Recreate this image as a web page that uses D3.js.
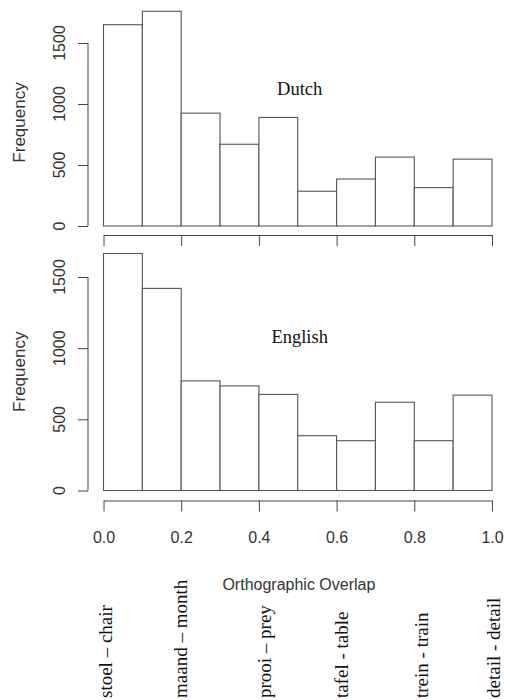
<!DOCTYPE html>
<html>
<head>
<meta charset="utf-8">
<script src="https://cdn.jsdelivr.net/npm/d3@7"></script>
<style>
  body { margin: 0; background: #fff; }
  svg { display: block; }
</style>
</head>
<body>
<svg class="chart"></svg>
<script>
// bin edges of orthographic overlap (0.1 wide)
var binStarts = [0.0, 0.1, 0.2, 0.3, 0.4, 0.5, 0.6, 0.7, 0.8, 0.9];
var dutchFreq = [1650, 1760, 925, 670, 890, 285, 385, 565, 315, 548];
var englishFreq = [1665, 1420, 770, 735, 675, 385, 350, 620, 350, 670];
var yTicks = [0, 500, 1000, 1500];
var xTicks = [0, 0.2, 0.4, 0.6, 0.8, 1.0];
var pairLabels = ["stoel \u2013 chair", "maand \u2013 month", "prooi \u2013 prey", "tafel - table", "trein - train", "detail - detail"];
var pairOverlap = [0.022, 0.215, 0.431, 0.629, 0.835, 1.02];

var width = 505, height = 700;
var svg = d3.select(".chart").attr("width", width).attr("height", height);

var x = d3.scaleLinear().domain([0, 1]).range([103.5, 492]);

var axisColor = "#444";
var sans = "'Liberation Sans', Arial, sans-serif";
var serif = "'Liberation Serif', 'Times New Roman', serif";

function drawPanel(values, yRange, name, nameY, axisY, withLabels) {
	var y = d3.scaleLinear().domain([0, 1500]).range(yRange);
	var g = svg.append("g");

	// bars
	g.selectAll("rect")
		.data(values)
		.enter().append("rect")
		.attr("x", function(d, i) { return x(binStarts[i]); })
		.attr("y", function(d) { return y(d); })
		.attr("width", x(0.1) - x(0))
		.attr("height", function(d) { return y(0) - y(d); })
		.attr("fill", "#fff")
		.attr("stroke", "#555")
		.attr("stroke-width", 1.1);

	// y axis, R style
	var yAxis = g.append("g").attr("transform", "translate(88,0)")
		.call(d3.axisLeft(y).tickValues(yTicks).tickSize(10).tickFormat(""));
	yAxis.select(".domain").attr("d", "M0," + y(0) + "V" + y(1500));
	yAxis.selectAll("line, path").attr("stroke", axisColor);

	g.selectAll(".ylab")
		.data(yTicks)
		.enter().append("text")
		.attr("class", "ylab")
		.attr("transform", function(d) { return "translate(65," + y(d) + ") rotate(-90)"; })
		.attr("text-anchor", "middle")
		.style("font-family", sans)
		.style("font-size", "16px")
		.attr("fill", "#333")
		.text(function(d) { return d; });

	g.append("text")
		.attr("transform", "translate(25," + ((y(0) + y(1500)) / 2 - 12) + ") rotate(-90)")
		.attr("text-anchor", "middle")
		.style("font-family", sans)
		.style("font-size", "17px")
		.attr("fill", "#333")
		.text("Frequency");

	// x axis below panel
	var xAxis = g.append("g").attr("transform", "translate(0," + axisY + ")")
		.call(d3.axisBottom(x).tickValues(xTicks).tickSize(11).tickSizeOuter(0)
			.tickFormat(withLabels ? d3.format(".1f") : ""));
	xAxis.selectAll("line, path").attr("stroke", axisColor);
	xAxis.selectAll("text")
		.attr("dy", null)
		.attr("y", 42)
		.style("font-family", sans)
		.style("font-size", "16px")
		.attr("fill", "#333");

	// panel label
	g.append("text")
		.attr("x", x(0.505))
		.attr("y", nameY)
		.attr("text-anchor", "middle")
		.style("font-family", serif)
		.style("font-size", "18.5px")
		.attr("fill", "#111")
		.text(name);
}

drawPanel(dutchFreq, [226, 43], "Dutch", 95, 235, false);
drawPanel(englishFreq, [490.5, 277], "English", 343, 500.5, true);

// x axis title
svg.append("text")
	.attr("x", x(0.503))
	.attr("y", 590)
	.attr("text-anchor", "middle")
	.style("font-family", sans)
	.style("font-size", "16px")
	.attr("fill", "#333")
	.text("Orthographic Overlap");

// example word pairs
svg.selectAll(".pair")
	.data(pairLabels)
	.enter().append("text")
	.attr("class", "pair")
	.attr("transform", function(d, i) { return "translate(" + x(pairOverlap[i]) + ",698) rotate(-90)"; })
	.attr("text-anchor", "start")
	.style("font-family", serif)
	.style("font-size", "19px")
	.attr("fill", "#111")
	.text(function(d) { return d; });
</script>
</body>
</html>
